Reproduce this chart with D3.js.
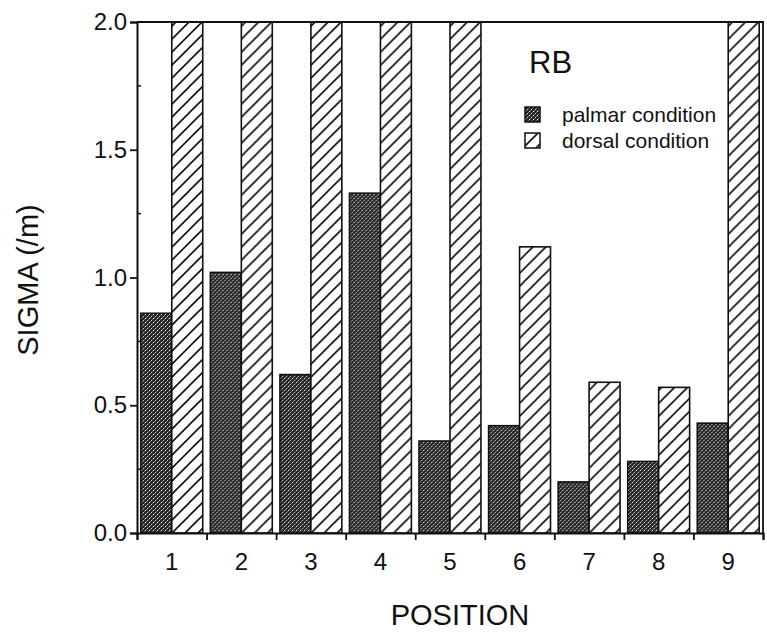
<!DOCTYPE html>
<html>
<head>
    <meta charset="utf-8">
    <title>sigma-position</title>
    <script src="https://d3js.org/d3.v7.min.js"></script>
    <style type="text/css">
        body {
            margin: 0;
            background: #ffffff;
            font-family: "Liberation Sans", Arial, sans-serif;
        }

        .tickLabel {
            font-size: 24px;
            fill: #111;
        }

        .axisTitle {
            font-size: 29px;
            fill: #111;
        }

        .legendLabel {
            font-size: 21px;
            fill: #111;
        }
    </style>
</head>
<body>
<div id="mysvg"></div>
<script>
var positions = ['1', '2', '3', '4', '5', '6', '7', '8', '9'];
var series = ['palmar', 'dorsal'];
var seriesLabels = ['palmar condition', 'dorsal condition'];
// dorsal bars 1-5 and 9 run off the top of the axis (> 2.0)
var palmar = [0.86, 1.02, 0.62, 1.33, 0.36, 0.42, 0.20, 0.28, 0.43];
var dorsal = [2.4, 2.4, 2.4, 2.4, 2.4, 1.12, 0.59, 0.57, 2.4];
var yTicks = [0.0, 0.5, 1.0, 1.5, 2.0];
var yMinorTicks = [0.25, 0.75, 1.25, 1.75];

var width = 767, height = 636;
var margin = {top: 22, right: 4, bottom: 103, left: 137};
var w = width - margin.left - margin.right,
    h = height - margin.top - margin.bottom;

var rows = positions.map(function(p, i) {
    return {pos: p, palmar: palmar[i], dorsal: dorsal[i]};
});

var x = d3.scaleBand().domain(positions).range([0, w]).padding(0);
var bw = x.bandwidth();
var x1 = d3.scaleBand().domain(series).range([0.055 * bw, 0.945 * bw]).padding(0);
var y = d3.scaleLinear().domain([0, 2]).range([h, 0]).clamp(true);

var svg = d3.select('#mysvg').append('svg')
            .attr('width', width).attr('height', height);

var defs = svg.append('defs');

// stippled dark fill
var stip = defs.append('pattern')
               .attr('id', 'stipple')
               .attr('patternUnits', 'userSpaceOnUse')
               .attr('width', 4).attr('height', 4);
stip.append('rect').attr('width', 4).attr('height', 4).attr('fill', '#262626');
[[0, 0, '#ffffff'], [2, 2, '#d0d0d0'], [1, 3, '#7a7a7a'], [3, 1, '#6a6a6a']].forEach(function(p) {
    stip.append('rect').attr('x', p[0]).attr('y', p[1])
        .attr('width', 1).attr('height', 1).attr('fill', p[2]);
});

// diagonal hatch
var hatch = defs.append('pattern')
                .attr('id', 'hatch')
                .attr('patternUnits', 'userSpaceOnUse')
                .attr('width', 13).attr('height', 13);
hatch.append('rect').attr('width', 13).attr('height', 13).attr('fill', '#ffffff');
hatch.append('path')
     .attr('d', 'M-1,1 l2,-2 M0,13 l13,-13 M12,14 l2,-2')
     .attr('stroke', '#111').attr('stroke-width', 1.6);

var fills = {palmar: 'url(#stipple)', dorsal: 'url(#hatch)'};

var g = svg.append('g').attr('transform', 'translate(' + margin.left + ',' + margin.top + ')');

// bars
var groups = g.selectAll('.group')
              .data(rows)
              .enter().append('g')
              .attr('transform', function(d) { return 'translate(' + x(d.pos) + ',0)'; });

groups.selectAll('rect')
      .data(function(d) { return series.map(function(s) { return {key: s, value: d[s]}; }); })
      .enter().append('rect')
      .attr('x', function(d) { return x1(d.key); })
      .attr('y', function(d) { return y(d.value); })
      .attr('width', x1.bandwidth())
      .attr('height', function(d) { return h - y(d.value); })
      .attr('fill', function(d) { return fills[d.key]; })
      .attr('stroke', '#111')
      .attr('stroke-width', 1.6);

// frame: top line at 2.0 and right edge
g.append('path')
 .attr('d', 'M0,' + y(2) + 'H' + w + 'V' + h)
 .attr('fill', 'none').attr('stroke', '#111').attr('stroke-width', 1.8);

// y axis
var yAxis = d3.axisLeft(y).tickValues(yTicks).tickFormat(d3.format('.1f')).tickSize(7).tickPadding(3);
var ya = g.append('g').call(yAxis);
ya.select('.domain').attr('stroke', '#111').attr('stroke-width', 2);
ya.selectAll('.tick line').attr('stroke', '#111').attr('stroke-width', 1.8);
ya.selectAll('.tick text').attr('class', 'tickLabel').attr('font-size', null).attr('font-family', null);

g.append('g').selectAll('line')
 .data(yMinorTicks)
 .enter().append('line')
 .attr('x1', 0).attr('x2', 4)
 .attr('y1', function(d) { return y(d); })
 .attr('y2', function(d) { return y(d); })
 .attr('stroke', '#111').attr('stroke-width', 1.5);

// x axis: ticks at group boundaries, labels at group centres
var xb = d3.scaleLinear().domain([0, positions.length]).range([0, w]);
var xa = g.append('g').attr('transform', 'translate(0,' + h + ')')
          .call(d3.axisBottom(xb).tickValues(d3.range(0, positions.length + 1))
                                 .tickFormat('').tickSize(7));
xa.select('.domain').attr('stroke', '#111').attr('stroke-width', 2);
xa.selectAll('.tick line').attr('stroke', '#111').attr('stroke-width', 1.8);

var xl = g.append('g').attr('transform', 'translate(0,' + h + ')')
          .call(d3.axisBottom(x).tickSize(0).tickPadding(20));
xl.select('.domain').remove();
xl.selectAll('.tick text').attr('class', 'tickLabel').attr('font-size', null).attr('font-family', null);

// axis titles
svg.append('text')
   .attr('class', 'axisTitle')
   .attr('text-anchor', 'middle')
   .attr('x', 460).attr('y', 625)
   .text('POSITION');

svg.append('text')
   .attr('class', 'axisTitle')
   .attr('text-anchor', 'middle')
   .attr('transform', 'translate(38,280) rotate(-90)')
   .text('SIGMA (/m)');

// legend
svg.append('text')
   .attr('x', 529).attr('y', 73)
   .style('font-size', '31px').style('fill', '#111')
   .text('RB');

var legend = svg.selectAll('.legend')
                .data(series)
                .enter().append('g')
                .attr('transform', function(d, i) { return 'translate(525,' + (107 + i * 26) + ')'; });

legend.append('rect')
      .attr('width', 15).attr('height', 15)
      .attr('fill', function(d) { return fills[d]; })
      .attr('stroke', '#111').attr('stroke-width', 1.5);

legend.append('text')
      .attr('class', 'legendLabel')
      .attr('x', 37).attr('y', 15)
      .text(function(d, i) { return seriesLabels[i]; });
</script>
</body>
</html>
